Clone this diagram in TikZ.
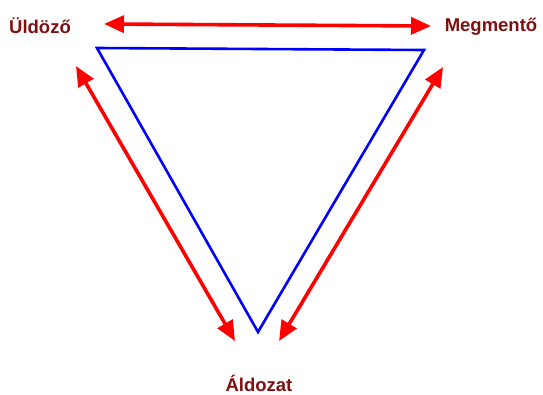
\documentclass[tikz,border=0pt]{standalone}
\usepackage{fontspec}
\setmainfont{Liberation Sans}
\usetikzlibrary{arrows.meta}
\definecolor{lbl}{RGB}{128,16,16}
\definecolor{tri}{RGB}{0,0,255}
\definecolor{arr}{RGB}{255,0,0}
\begin{document}
\begin{tikzpicture}[x=1pt,y=-1pt,
  lab/.style={text=lbl,font=\bfseries\fontsize{18.5}{22}\selectfont,inner sep=0pt},
  dbl/.style={draw=arr,line width=3.6pt,{Triangle[length=20pt,width=17pt]}-{Triangle[length=20pt,width=17pt]}},
  triline/.style={draw=tri,line width=2.6pt,line join=miter}]
\useasboundingbox (0,0) rectangle (543,394);
\node[lab] (u) at (40,26) {Üldöző};
\node[lab] (m) at (491,27) {Megmentő};
\node[lab] (a) at (259,383) {Áldozat};
\coordinate (v1) at (97,48);
\coordinate (v2) at (424,50);
\coordinate (v3) at (258,332);
\draw[triline] (v1) -- (v2) -- (v3) -- cycle;
\coordinate (t1) at (104,24);
\coordinate (t2) at (431,26);
\coordinate (l1) at (76,66);
\coordinate (l2) at (235,341);
\coordinate (r1) at (443,67);
\coordinate (r2) at (279,341);
\draw[dbl] (t1) -- (t2);
\draw[dbl] (l1) -- (l2);
\draw[dbl] (r1) -- (r2);
\end{tikzpicture}
\end{document}
